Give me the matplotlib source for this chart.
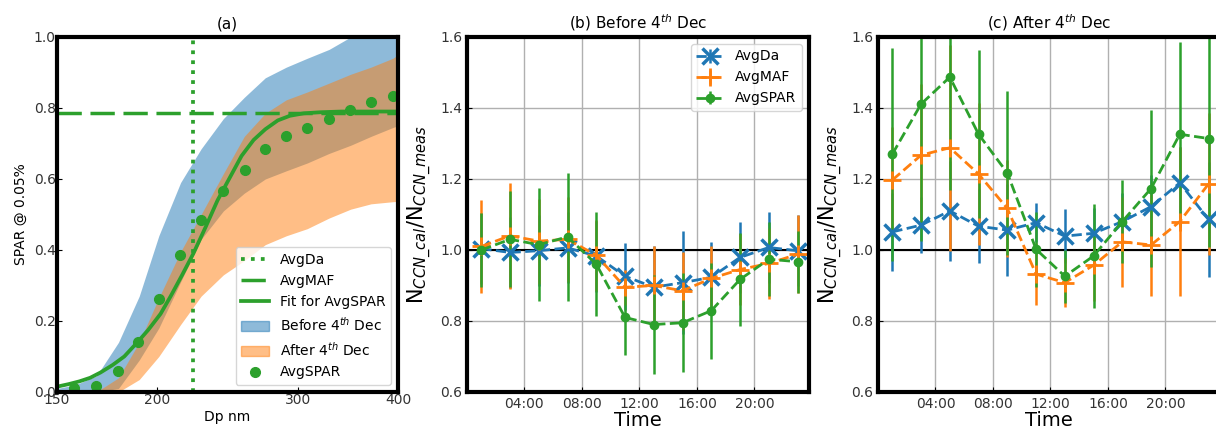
import numpy as np
import matplotlib
matplotlib.use("Agg")
import matplotlib.pyplot as plt
from matplotlib.patches import Patch
from matplotlib.lines import Line2D
from matplotlib.ticker import FixedLocator, FixedFormatter, NullLocator

# ---- panel (a): SPAR vs Dp ----
spar_dp = [157.5, 167.6, 178.6, 189.5, 201.3, 213.9, 227, 242, 257.4, 273, 290, 308, 327.5, 348.5, 370, 393.8]
spar_val = [0.011, 0.018, 0.059, 0.14, 0.261, 0.386, 0.485, 0.566, 0.625, 0.684, 0.721, 0.743, 0.770, 0.794, 0.817, 0.835]

fit_dp = [150, 155, 160, 165, 170, 176, 182, 189, 195, 202, 208, 215, 222, 230, 238, 246, 255, 264, 273, 283, 293, 305, 320, 340, 360, 380, 400]
fit_val = [0.015, 0.022, 0.03, 0.04, 0.055, 0.076, 0.10, 0.14, 0.175, 0.22, 0.27, 0.33, 0.39, 0.465, 0.54, 0.60, 0.665, 0.71, 0.74, 0.765, 0.778, 0.785, 0.788, 0.79, 0.79, 0.79, 0.79]

band_dp = [150, 158, 168, 179, 190, 201, 214, 227, 242, 257, 273, 290, 308, 328, 349, 370, 394, 400]
before_low = [0, 0, 0, 0.01, 0.09, 0.18, 0.31, 0.43, 0.51, 0.56, 0.60, 0.623, 0.645, 0.672, 0.695, 0.72, 0.745, 0.75]
before_high = [0.01, 0.02, 0.045, 0.14, 0.27, 0.44, 0.59, 0.685, 0.77, 0.83, 0.885, 0.915, 0.94, 0.965, 1.0, 1.02, 1.04, 1.05]
after_low = [0, 0, 0, 0, 0.035, 0.10, 0.19, 0.27, 0.33, 0.37, 0.415, 0.44, 0.46, 0.49, 0.515, 0.53, 0.536, 0.537]
after_high = [0, 0, 0, 0.04, 0.14, 0.265, 0.395, 0.50, 0.615, 0.72, 0.785, 0.823, 0.845, 0.87, 0.895, 0.915, 0.94, 0.95]

avg_da = 222
avg_maf = 0.787

# ---- panels (b), (c): ratio vs time of day ----
hours = [1, 3, 5, 7, 9, 11, 13, 15, 17, 19, 21, 23]
time_ticks = [4, 8, 12, 16, 20]
time_labels = ["04:00", "08:00", "12:00", "16:00", "20:00"]

b_da = [1.004, 0.993, 0.998, 1.006, 0.983, 0.926, 0.895, 0.908, 0.923, 0.979, 1.007, 0.998]
b_da_err = [0.10, 0.10, 0.10, 0.10, 0.10, 0.095, 0.117, 0.146, 0.10, 0.10, 0.10, 0.10]
b_maf = [1.01, 1.04, 1.025, 1.03, 0.985, 0.895, 0.90, 0.885, 0.92, 0.945, 0.962, 0.988]
b_maf_err = [0.13, 0.15, 0.12, 0.12, 0.10, 0.05, 0.11, 0.11, 0.09, 0.10, 0.10, 0.11]
b_spar = [1.0, 1.03, 1.015, 1.037, 0.96, 0.81, 0.79, 0.795, 0.829, 0.917, 0.974, 0.967]
b_spar_err = [0.105, 0.135, 0.16, 0.18, 0.147, 0.105, 0.14, 0.14, 0.135, 0.13, 0.105, 0.087]

c_da = [1.051, 1.07, 1.11, 1.067, 1.056, 1.077, 1.039, 1.047, 1.08, 1.122, 1.189, 1.086]
c_da_err = [0.11, 0.078, 0.14, 0.105, 0.13, 0.055, 0.077, 0.07, 0.08, 0.09, 0.10, 0.163]
c_maf = [1.197, 1.267, 1.288, 1.214, 1.117, 0.932, 0.908, 0.957, 1.023, 1.014, 1.08, 1.186]
c_maf_err = [0.15, 0.20, 0.29, 0.20, 0.136, 0.087, 0.07, 0.10, 0.127, 0.144, 0.21, 0.20]
c_spar = [1.27, 1.411, 1.487, 1.326, 1.217, 1.002, 0.926, 0.983, 1.08, 1.173, 1.326, 1.314]
c_spar_err = [0.30, 0.385, 0.318, 0.237, 0.23, 0.105, 0.075, 0.147, 0.117, 0.222, 0.26, 0.305]

plt.rcParams['font.size'] = 10
plt.rcParams['xtick.direction'] = 'in'
plt.rcParams['ytick.direction'] = 'in'
plt.rcParams['xtick.labelcolor'] = '#333333'
plt.rcParams['ytick.labelcolor'] = '#333333'

fig = plt.figure(figsize=(12.16, 4.30), dpi=100)
ax1 = fig.add_axes([0.0469, 0.0884, 0.2805, 0.8256])
ax2 = fig.add_axes([0.3840, 0.0884, 0.2813, 0.8256])
ax3 = fig.add_axes([0.7220, 0.0884, 0.2813, 0.8256])

# panel (a)
maf_dash = (0, (7, 2.5))
ax1.fill_between(band_dp, before_low, before_high, color='C0', alpha=0.5, lw=0)
ax1.fill_between(band_dp, after_low, after_high, color='C1', alpha=0.5, lw=0)
ax1.axvline(avg_da, color='C2', ls=':', lw=2.7)
ax1.axhline(avg_maf, color='C2', ls=maf_dash, lw=2.5)
ax1.plot(fit_dp, fit_val, color='C2', lw=2.7)
ax1.plot(spar_dp, spar_val, 'o', color='C2', ms=7)
ax1.set_xscale('log')
ax1.set_xlim(150, 400)
ax1.set_ylim(0, 1)
ax1.xaxis.set_major_locator(FixedLocator([150, 200, 300, 400]))
ax1.xaxis.set_major_formatter(FixedFormatter(["150", "200", "300", "400"]))
ax1.xaxis.set_minor_locator(NullLocator())
ax1.set_yticks([0, 0.2, 0.4, 0.6, 0.8, 1.0])
ax1.set_xlabel("Dp nm", labelpad=2)
ax1.set_ylabel("SPAR @ 0.05%")
ax1.set_title("(a)", fontsize=11)
ax1.tick_params(pad=1)
handles = [
    Line2D([], [], color='C2', ls=':', lw=2.7),
    Line2D([], [], color='C2', ls=maf_dash, lw=2.5),
    Line2D([], [], color='C2', lw=2.7),
    Patch(color='C0', alpha=0.5),
    Patch(color='C1', alpha=0.5),
    Line2D([], [], color='C2', marker='o', ls='none', ms=7),
]
labels = ["AvgDa", "AvgMAF", "Fit for AvgSPAR", r"Before 4$^{th}$ Dec",
          r"After 4$^{th}$ Dec", "AvgSPAR"]
ax1.legend(handles, labels, loc='lower right', fontsize=10)


def diurnal(ax, da, da_err, maf, maf_err, spar, spar_err, title, legend=False):
    ax.axhline(1.0, color='black', lw=1.5, zorder=1)
    ax.errorbar(hours, da, yerr=da_err, fmt='x--', color='C0', ms=11, mew=2.5,
                lw=2, elinewidth=1.8, label='AvgDa')
    ax.errorbar(hours, maf, yerr=maf_err, fmt='+--', color='C1', ms=13, mew=2,
                lw=2, elinewidth=1.8, label='AvgMAF')
    ax.errorbar(hours, spar, yerr=spar_err, fmt='o--', color='C2', ms=6,
                lw=2, elinewidth=1.8, label='AvgSPAR')
    ax.set_xlim(0, 23.8)
    ax.set_ylim(0.6, 1.6)
    ax.set_xticks(time_ticks)
    ax.set_xticklabels(time_labels)
    ax.set_yticks([0.6, 0.8, 1.0, 1.2, 1.4, 1.6])
    ax.grid(True, color='#b0b0b0', lw=1)
    ax.set_axisbelow(True)
    ax.set_xlabel("Time", fontsize=14, labelpad=0)
    ax.set_ylabel(r"N$_{CCN\_cal}$/N$_{CCN\_meas}$", fontsize=15)
    ax.set_title(title, fontsize=11)
    if legend:
        ax.legend(loc='upper right', fontsize=10)


diurnal(ax2, b_da, b_da_err, b_maf, b_maf_err, b_spar, b_spar_err,
        r"(b) Before 4$^{th}$ Dec", legend=True)
diurnal(ax3, c_da, c_da_err, c_maf, c_maf_err, c_spar, c_spar_err,
        r"(c) After 4$^{th}$ Dec")

for ax in (ax1, ax2, ax3):
    for s in ax.spines.values():
        s.set_linewidth(3)
        s.set_color('black')

fig.savefig("out.png", dpi=100)
